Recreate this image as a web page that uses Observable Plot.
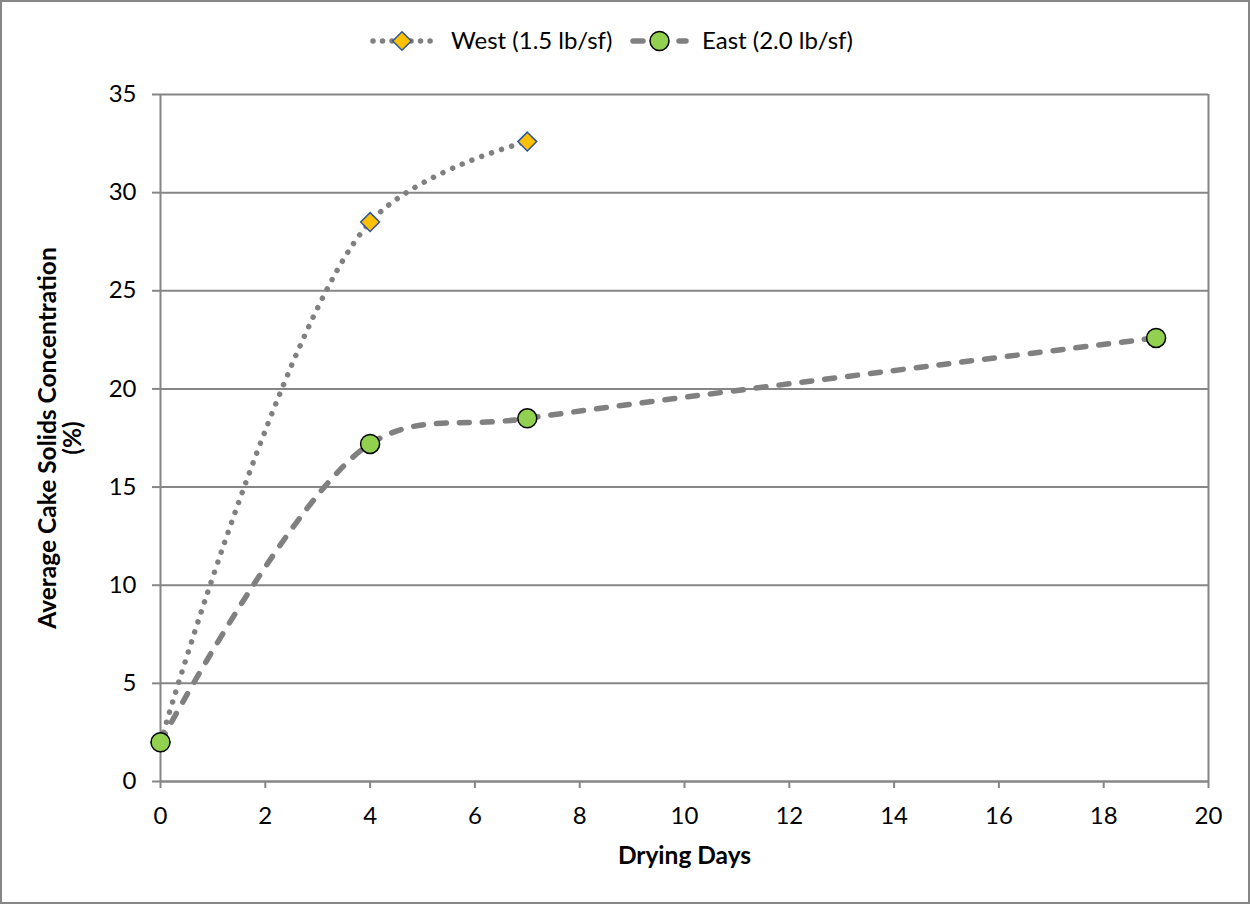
<!DOCTYPE html>
<html>
<head>
<meta charset="utf-8">
<script src="https://cdn.jsdelivr.net/npm/d3@7"></script>
<script src="https://cdn.jsdelivr.net/npm/@observablehq/plot@0.6"></script>
<style>
  html, body { margin: 0; padding: 0; background: #fff; }
  #chart {
    position: relative;
    width: 1250px;
    height: 904px;
    box-shadow: inset 0 0 0 2px #868686;
    font-family: Lato, "Open Sans", sans-serif;
  }
  #legend { display: block; }
  #plot svg { display: block; }
</style>
</head>
<body>
<div id="chart">
  <svg id="legend" width="1250" height="70"></svg>
  <div id="plot"></div>
</div>
<script>
// Drying days sampled for each bed
const westDays = [0, 4, 7];
const westSolids = [2.0, 28.5, 32.6];
const eastDays = [0, 4, 7, 19];
const eastSolids = [2.0, 17.2, 18.5, 22.6];

const westName = "West (1.5 lb/sf)";
const eastName = "East (2.0 lb/sf)";

const xTicks = [0, 2, 4, 6, 8, 10, 12, 14, 16, 18, 20];
const yTicks = [0, 5, 10, 15, 20, 25, 30, 35];

const xTitle = "Drying Days";
const yTitle = "Average Cake Solids Concentration\n(%)";

const west = westDays.map((d, i) => ({day: d, solids: westSolids[i]}));
const east = eastDays.map((d, i) => ({day: d, solids: eastSolids[i]}));

const gray = "#868686";
const lineGray = "#808080";
const westFill = "#FFC000";
const westStroke = "#2F5597";
const eastFill = "#92D050";
const fontSize = 24;
const titleSize = 24.5;

// Legend row above the plot
const lg = d3.select("#legend");
function swatch(x0, x1, cy, dash, width, symbol) {
  lg.append("line")
    .attr("x1", x0).attr("x2", x1).attr("y1", cy).attr("y2", cy)
    .attr("stroke", lineGray).attr("stroke-width", width)
    .attr("stroke-linecap", "round").attr("stroke-dasharray", dash);
  symbol((x0 + x1) / 2, cy);
}
swatch(373, 431, 41, "0.01 9.5", 5.5, (cx, cy) => {
  lg.append("path")
    .attr("d", d3.symbol(d3.symbolDiamond2, 220)())
    .attr("transform", `translate(${cx},${cy})`)
    .attr("fill", westFill).attr("stroke", westStroke).attr("stroke-width", 1.5);
});
lg.append("text").attr("x", 451).attr("y", 41).attr("dy", "0.35em")
  .attr("font-size", fontSize).text(westName);
swatch(633, 686, 41, "10 13", 5.5, (cx, cy) => {
  lg.append("circle").attr("cx", cx).attr("cy", cy).attr("r", 9.5)
    .attr("fill", eastFill).attr("stroke", "#000").attr("stroke-width", 1.5);
});
lg.append("text").attr("x", 702).attr("y", 41).attr("dy", "0.35em")
  .attr("font-size", fontSize).text(eastName);

const chart = Plot.plot({
  width: 1250,
  height: 834,
  marginLeft: 160,
  marginRight: 42,
  marginTop: 24,
  marginBottom: 123,
  style: {fontFamily: "Lato, 'Open Sans', sans-serif", fontSize: `${fontSize}px`, color: "#000", background: "transparent"},
  x: {domain: [0, 20]},
  y: {domain: [0, 35]},
  marks: [
    Plot.gridY(yTicks, {stroke: gray, strokeOpacity: 1, strokeWidth: 2}),
    Plot.ruleX([20], {stroke: gray, strokeWidth: 2}),
    Plot.axisY(yTicks, {tickSize: 8, tickPadding: 16, stroke: gray, strokeWidth: 2, label: null, fill: "#000"}),
    Plot.axisX(xTicks, {tickSize: 7, tickPadding: 18, stroke: gray, strokeWidth: 2, label: null, fill: "#000"}),
    Plot.ruleX([0], {stroke: gray, strokeWidth: 2}),
    Plot.ruleY([0], {stroke: gray, strokeWidth: 2}),
    // West bed
    Plot.line(west, {x: "day", y: "solids", curve: "catmull-rom", stroke: lineGray, strokeWidth: 5.5,
      strokeLinecap: "round", strokeDasharray: "0.01 10.5"}),
    Plot.dot(west, {x: "day", y: "solids", symbol: "diamond2", r: 8.5, fill: westFill, stroke: westStroke, strokeWidth: 1.5}),
    // East bed
    Plot.line(east, {x: "day", y: "solids", curve: "catmull-rom", stroke: lineGray, strokeWidth: 5.5,
      strokeLinecap: "round", strokeDasharray: "10 13"}),
    Plot.dot(east, {x: "day", y: "solids", r: 9.5, fill: eastFill, stroke: "#000", strokeWidth: 1.5}),
    // Axis titles
    Plot.text([xTitle], {frameAnchor: "bottom", dy: 82, fontWeight: "bold", fontSize: titleSize}),
    Plot.text([yTitle], {frameAnchor: "left", textAnchor: "middle", dx: -100, rotate: -90,
      fontWeight: "bold", fontSize: titleSize, lineHeight: 1.0})
  ]
});
document.getElementById("plot").appendChild(chart);
</script>
</body>
</html>
